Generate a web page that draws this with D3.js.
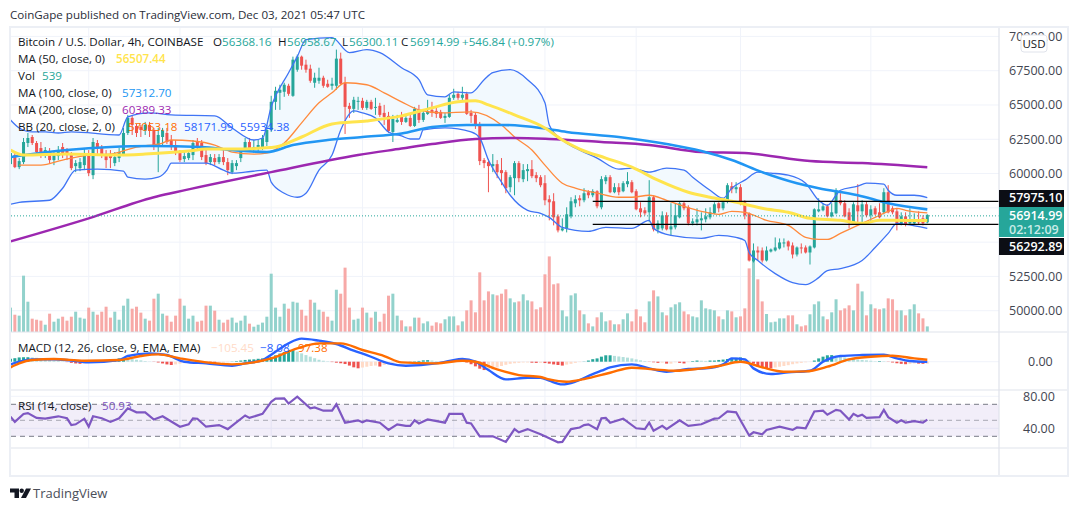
<!DOCTYPE html>
<html>
<head>
<meta charset="utf-8">
<script src="https://cdn.jsdelivr.net/npm/d3@7"></script>
<style>
  html, body { margin: 0; padding: 0; background: #fff; }
  svg { display: block; }
  text { font-family: "Open Sans", "Liberation Sans", sans-serif; font-size: 11.6px; fill: #131722; }
  .axis text { fill: #434651; font-size: 12.5px; }
</style>
</head>
<body>
<svg id="chart" width="1079" height="511"></svg>
<script>
// candles, one row per 10 bars
const opens = [
  60616,61275,60397,60763,62154,62593,62154,61788,61349,61495,
  60909,61202,61861,61641,61275,60470,60323,60543,61275,59811,
  62154,61861,61275,61275,60689,61056,61349,62886,63985,63399,
  63326,63033,63472,63106,62008,62593,62886,62374,62008,61422,
  60982,61056,61275,62227,62154,61275,60763,61056,60763,61129,
  60763,60030,60470,61056,61641,62227,61715,61788,61861,62227,
  63106,65157,65816,65889,66328,65596,67500,68452,67866,67573,
  66548,66694,66914,66475,66328,66328,68306,66548,64864,64644,
  65157,65230,64717,65157,64717,64864,64351,64131,62960,63692,
  64058,63692,63985,63399,64571,63838,64278,64571,64498,64424,
  63985,64058,65450,65742,65450,65742,64351,64205,63545,60909,
  60763,60470,60616,60177,60030,58932,59591,60689,59518,60104,
  60250,59811,59664,59225,58053,57907,56808,55783,55930,56808,
  57760,58126,57980,58566,58346,58639,57467,59371,59664,58566,
  58932,58639,59152,59298,58639,57394,57248,57101,58200,55856,
  55930,56881,55856,56003,56735,57760,57467,56296,56369,56515,
  56589,56735,57028,57760,57394,57907,59005,58785,58932,57833,
  57028,53513,54319,54319,53586,54246,54319,54465,54831,54978,
  54685,54026,54538,54538,54172,54538,57174,57248,57541,56808,
  57028,57980,57760,57101,56369,57614,57174,57687,56881,57394,
  57101,57101,58566,57394,57174,56222,56808,56296,56296,56515,
  56662,56368];
const highs = [
  61788,61495,61056,62520,62886,62740,62301,62227,61861,61788,
  61495,61934,62154,61788,61495,60909,61056,61788,61641,62520,
  62374,62008,61641,61641,61495,61788,63253,64205,64131,63545,
  63472,63692,63692,63253,63253,63253,63253,62740,62374,61641,
  61495,61641,62374,62520,62374,61641,61349,61349,61349,61641,
  61056,60909,60909,61788,62520,62520,62374,62374,62740,63472,
  65596,66255,66402,66548,66475,68452,68600,68530,68232,67866,
  67280,67646,67060,66768,66914,68965,68745,66987,65083,65523,
  65523,65450,65303,65303,65450,65083,64937,64424,64205,64205,
  64424,64205,64205,64790,64937,64571,65303,65157,64717,64571,
  64351,65669,66109,65889,66255,65889,64571,64351,63692,61056,
  60982,61349,60909,61056,60177,59811,60836,60836,60616,60616,
  60909,60030,59811,59811,58346,58493,56955,56662,57467,58200,
  58346,58346,58859,58712,58785,58712,59737,59811,59811,59225,
  59225,59371,60030,59445,58785,57833,57467,59445,58346,56515,
  57174,57101,57760,57760,57907,57907,57614,56662,57394,57101,
  57394,57467,57833,57833,58126,59225,59298,59298,59152,57980,
  57101,54831,54612,54538,54612,54465,55270,55197,55197,55051,
  54905,54612,54831,54685,54685,57394,58126,57760,57687,57760,
  58859,58493,57980,57394,57833,59152,57980,57907,57614,57541,
  57760,58859,59078,57541,57394,57101,57101,57394,57028,57174,
  56881,56958];
const lows = [
  60177,60323,60250,60616,61861,62008,61275,61056,61056,60689,
  60543,60909,61056,60909,60177,60030,60104,60177,59737,59518,
  61275,61056,60323,60323,60470,60763,61202,62740,62740,62593,
  62593,62740,62593,61641,60030,62008,62081,61641,61275,60763,
  60763,60909,60909,61641,60909,60543,60543,60543,60616,60543,
  59811,59884,60177,60763,61495,61641,61422,61495,61641,61934,
  62960,64571,64571,65523,65596,65523,67350,67500,67280,66548,
  66182,66475,66182,66182,66035,66035,66402,62813,63985,64351,
  64571,64571,64571,64571,64205,64058,63472,62886,62227,63619,
  63472,63619,63326,63326,63619,63692,64205,64058,63985,63912,
  63619,63985,65303,65303,65303,64205,63619,63179,60543,60323,
  58566,60030,59591,59078,58493,58566,58346,59298,59298,59371,
  59591,59298,58932,57614,56515,56149,55637,55710,55637,56662,
  57467,57541,57833,58126,58200,57394,57321,59152,58493,58493,
  58346,58566,58932,58493,57248,56735,56881,56369,55710,55563,
  55783,55783,55417,55856,56662,57248,56149,56149,56149,55783,
  56369,56589,56955,57101,57248,57760,58493,58493,57614,56589,
  53513,53440,53586,53440,53513,54172,54246,54392,54538,54319,
  53740,53880,54099,54099,53294,54465,57101,57174,56735,56735,
  56955,57614,56735,55930,56222,56369,56369,56735,56369,56881,
  56662,56955,57028,56955,55783,56149,56076,56222,56222,56222,
  56149,56300];
const closes = [
  61422,60397,60836,62227,62520,62154,61495,61422,61641,60909,
  61275,61641,61422,61275,60323,60689,60763,61275,59957,62227,
  61861,61275,60909,61056,61129,61495,62886,63985,63472,62886,
  63106,63472,63033,62008,62740,63106,62227,61861,61422,60909,
  61202,61422,62154,61861,61129,60689,61129,60763,61129,60763,
  60177,60689,60689,61495,62227,61788,61861,62008,62520,63106,
  65157,65962,66035,66402,65742,68232,68452,67793,67500,66694,
  66914,66914,66328,66255,66475,68306,66475,64790,64644,65303,
  65230,64717,65157,64644,64790,64205,64058,63033,63912,63838,
  63692,63985,63399,64644,63838,64351,64424,64424,64278,63985,
  64131,65450,65669,65450,65669,64278,64131,63399,60836,60689,
  60470,60616,60030,59957,58859,59664,60689,59591,60177,60250,
  59737,59591,59078,57980,57833,56735,55783,55930,56955,57907,
  58053,57980,58493,58346,58639,57541,59518,59664,58566,58932,
  58566,59225,59371,58566,57321,57101,57028,58200,55856,56296,
  56881,55856,56076,56881,57760,57394,56296,56442,56589,56662,
  56808,57101,57687,57394,57833,59078,58785,58932,57833,56881,
  53586,54319,54172,53586,54319,54392,54538,54905,54905,54612,
  54026,54538,54465,54172,54612,57321,57321,57541,56808,57101,
  58712,57760,56808,56369,57687,57174,57687,56881,57321,56955,
  56735,58566,57101,57101,56296,56808,56222,56515,56515,56369,
  56296,56915];
const volumes = [
  2340,1660,1570,5410,2910,1280,1180,1090,700,1760,
  990,1280,1470,1090,1470,1950,1380,1280,2340,1950,
  1660,1950,2430,1380,1950,1180,2530,3200,2240,2430,
  1860,1280,1090,3200,3680,1760,1570,990,1570,3200,
  2530,1280,1570,990,1090,2530,2530,2050,1180,900,
  1180,1380,900,1090,1570,800,510,700,900,1470,
  5600,2340,1470,2720,2240,2910,2820,2140,1570,3100,
  2820,2140,1950,1470,1090,4060,3680,6180,2340,1180,
  1280,2340,1860,1380,1950,990,1760,3490,3680,1570,
  1120,540,540,1380,1380,830,1020,610,930,830,
  1220,1500,1500,640,1020,2080,3040,1890,5730,3040,
  3900,3620,3520,3680,4100,3230,2850,2940,3620,3040,
  2940,2180,2370,5540,7260,4580,4670,2080,1500,3520,
  3710,2080,1700,830,540,1410,1890,1020,1120,740,
  740,1220,1790,1020,2180,1500,930,2940,4000,3420,
  1890,1600,2370,2660,2850,1980,1700,1500,1410,3040,
  2270,2180,2080,1500,1220,2080,1980,1410,1500,2270,
  6110,6780,5060,2940,1730,930,990,1310,1310,1600,
  1600,740,540,640,1700,2660,2940,1500,1220,1890,
  3140,2080,2270,2560,2080,4640,3900,1600,2660,2270,
  2180,2270,3230,3140,2080,2080,1600,2180,2660,1790,
  1310,539];

// overlay lines as [bar, value] points
const bbUpper = [[0,63838],[2,63253],[5,62960],[8,62960],[11,62886],[14,62960],[25,62740],[27,64058],[32,64351],[37,64205],[47,64131],[51,63253],[56,62374],[58,62520],[60,64790],[64,67280],[66,68452],[68,69697],[74,69843],[78,68745],[82,68965],[85,68745],[90,67646],[94,66768],[96,65669],[100,65523],[102,65889],[106,65816],[109,66768],[111,67280],[115,67500],[119,66768],[123,65083],[124,63472],[127,62374],[130,61788],[135,61056],[140,60250],[143,60323],[147,60030],[151,60323],[155,60177],[157,59664],[161,58712],[164,58126],[166,58859],[169,59445],[172,60030],[175,59957],[179,59811],[183,59225],[186,57980],[188,57614],[190,58346],[191,58712],[195,59005],[197,59225],[201,59152],[202,58712],[204,58346],[208,58346],[211,58172]];
const bbLower = [[0,57687],[2,57833],[9,57980],[12,58859],[15,60177],[20,60250],[26,60104],[27,59664],[31,59518],[34,59664],[36,60177],[37,60689],[45,60689],[49,60177],[51,59957],[54,60030],[59,60177],[60,59298],[63,58493],[66,58200],[68,58493],[71,60177],[74,61275],[76,63106],[79,64498],[81,64351],[84,63985],[87,62960],[90,62667],[92,62447],[94,62447],[95,63106],[100,63253],[106,62960],[108,62520],[110,60909],[113,59298],[115,58346],[119,57248],[122,57028],[124,56735],[127,56003],[133,55710],[137,56003],[143,55930],[147,56515],[148,55930],[152,55417],[159,55197],[163,55417],[167,55270],[169,55051],[170,54172],[172,53586],[176,52634],[180,51975],[183,51828],[186,52340],[188,52853],[191,52999],[196,53586],[199,54538],[202,55563],[204,56296],[206,56222],[211,55934]];
const bbBasis = [[2,60543],[7,60543],[12,60909],[18,61275],[23,61349],[29,61861],[35,62154],[37,62374],[42,62301],[47,62008],[51,61495],[56,61349],[59,61422],[63,62154],[67,63619],[71,65083],[74,65816],[77,66548],[82,66402],[86,65816],[90,65157],[94,64571],[99,64351],[106,64424],[113,63472],[116,62593],[120,61641],[123,60543],[127,59225],[130,58859],[135,58493],[140,58200],[143,58200],[147,58346],[151,57980],[155,57541],[159,57174],[163,56955],[166,57174],[169,57101],[174,56515],[179,56149],[183,55270],[186,55124],[188,55124],[191,55563],[196,56296],[199,56735],[202,57174],[204,57394],[206,57248],[211,57053]];
const ma50 = [[0,61641],[3,61275],[13,61349],[24,61275],[31,61349],[41,61568],[45,61715],[51,61715],[58,61788],[61,61861],[67,62593],[74,63545],[82,63765],[90,64131],[97,64717],[103,65157],[107,65230],[110,64937],[116,64205],[123,63253],[127,62374],[131,61715],[137,61056],[143,60397],[149,59445],[156,58566],[161,58200],[166,57907],[170,57614],[173,57394],[179,57101],[184,56662],[191,56515],[196,56296],[200,56515],[203,56515],[211,56507]];
const ma100 = [[0,61129],[13,61641],[23,61861],[32,61934],[44,61861],[51,61641],[59,61495],[65,62008],[73,62374],[81,62593],[90,62850],[97,63326],[105,63472],[113,63472],[122,63253],[128,62960],[140,62593],[151,62081],[159,61568],[166,60909],[173,60030],[181,59225],[186,58859],[195,58346],[202,57760],[211,57313]];
const ma200 = [[0,54978],[18,56662],[33,58200],[38,58566],[60,60030],[80,61275],[90,61750],[97,62081],[107,62447],[116,62520],[124,62447],[136,62227],[147,62008],[159,61495],[169,61422],[184,60836],[196,60689],[211,60389]];

const macdHist = [
  150,180,220,230,230,220,200,170,140,100,
  70,40,20,-20,-60,-90,-110,-90,-60,-30,
  -10,10,30,60,120,170,190,170,140,100,
  70,30,10,-10,-40,-90,-140,-170,-140,-100,
  -70,-50,-30,-10,-20,-40,-60,-70,-60,-50,
  -30,10,30,60,90,110,120,150,170,190,
  240,330,420,500,560,600,520,430,340,260,
  180,100,50,20,-20,-50,-80,-120,-200,-290,
  -340,-300,-260,-220,-200,-250,-170,-100,-50,-20,
  -10,0,10,20,40,70,80,60,30,0,
  10,30,60,40,20,-40,-130,-240,-360,-430,
  -420,-400,-300,-220,-160,-110,-80,-60,-40,-40,
  -50,-60,-60,-70,-100,-140,-170,-200,-150,-110,
  -60,-20,10,60,130,170,260,330,330,300,
  270,240,210,170,120,70,30,-10,-30,-60,
  -50,-100,-100,-30,-60,-90,-20,30,60,50,
  40,60,60,90,110,140,170,200,220,170,
  60,-100,-250,-300,-330,-340,-300,-260,-220,-180,
  -130,-90,-60,-30,-10,60,170,260,330,340,
  310,260,220,180,140,110,90,70,50,20,
  30,20,-10,-40,-80,-110,-130,-120,-90,-100,
  -110,-105];
const macdLine = [[0,-138],[2,0],[5,120],[10,120],[13,86],[18,-34],[25,86],[27,292],[32,430],[36,344],[40,0],[45,-86],[51,-206],[54,-86],[58,86],[61,516],[64,946],[67,1187],[71,1084],[75,912],[79,568],[82,344],[87,-86],[91,-206],[98,-86],[101,34],[104,138],[107,0],[110,-430],[114,-912],[119,-826],[122,-826],[124,-980],[127,-1170],[130,-1030],[134,-636],[136,-464],[138,-292],[143,-138],[147,-344],[151,-516],[156,-378],[160,-344],[164,-138],[166,172],[169,120],[171,-344],[175,-636],[179,-550],[184,-464],[187,0],[191,292],[196,344],[201,360],[204,172],[207,34],[211,-8]];
const macdSignal = [[0,-292],[2,-86],[5,86],[10,138],[17,52],[25,86],[30,292],[34,378],[39,172],[45,-34],[51,-138],[56,-34],[60,172],[66,688],[71,946],[76,946],[81,602],[86,292],[90,-34],[98,-86],[104,52],[107,0],[112,-396],[117,-688],[122,-790],[124,-912],[128,-1030],[132,-894],[138,-568],[143,-310],[148,-396],[153,-464],[159,-344],[163,-224],[168,0],[173,-292],[178,-516],[183,-500],[188,-258],[193,120],[198,258],[203,310],[208,172],[211,97]];
const rsiLine = [[0,54.6],[1,48],[3,58],[4,59],[6,53],[8,52],[11,55],[13,52.5],[14,44],[15,45],[17,52],[18,42],[19,55],[21,52.5],[23,48],[25,52.5],[27,65],[29,60],[31,60],[33,51],[35,55],[39,42],[41,45],[42,52.5],[43,52],[45,42],[48,44],[50,39],[54,56],[55,53],[58,58],[60,73],[61,77],[63,77.5],[64,71],[66,79.6],[69,65],[70,66],[72,62],[74,62],[75,70],[77,47],[80,50],[81,47.5],[82,50],[85,47],[87,38],[89,45],[91,43],[92,43],[93,50],[94,46],[96,51],[100,47],[101,58],[104,58],[105,47],[106,46],[108,30],[111,30],[114,23],[116,39],[117,35],[119,39],[122,32.5],[124,27.5],[126,22.5],[127,23],[129,39],[131,41],[132,44],[133,45],[135,39],[136,52.5],[137,53],[138,47],[141,52],[144,40],[146,39],[147,47],[148,37],[150,43],[151,39],[154,50],[156,43],[159,45],[162,52],[163,52.5],[165,61],[167,60],[168,50],[170,31],[171,35],[173,32.5],[174,38],[177,42],[180,38],[181,41],[183,40],[185,61],[187,62],[188,57],[190,63],[191,62],[193,51],[194,58],[195,55],[196,57],[197,53],[200,54],[201,63],[202,54],[204,47],[205,50],[206,47],[208,49],[210,47],[211,50.93]];

const priceTicks = [70000,67500,65000,62500,60000,57500,55000,52500,50000];
const priceLabelTicks = [70000,67500,65000,62500,60000,52500,50000]; // 57500 and 55000 sit behind the tags
const levelPrices = [57975.10, 56292.89];
const lastPrice = 56914.99;
const timeTickBars = [18,39,60,81,102,123,144,168,198,228];
const timeTickLabels = ["Nov","12:00","8","12:00","15","12:00","22","26","Dec","6"];
const boldTimeLabels = ["Nov","Dec"];
const macdTicks = [0];
const rsiTicks = [80,40];
const rsiLevels = [70,50,30];
const levelStartBar = 134;

const UP = "#26a69a", DOWN = "#ef5350";
const plotL = 11, plotR = 999, frameT = 27, frameB = 476, paneBottom = 332, macdBottom = 390, rsiBottom = 448;

const svg = d3.select("#chart");

const x = d3.scaleLinear().domain([0, opens.length - 1]).range([10.5, 927.3]);
const yPrice = d3.scaleLinear().domain([67500, 50000]).range([70.7, 310.7]);
const yVol = d3.scaleLinear().domain([0, 8000]).range([paneBottom, paneBottom - 83.3]);
const yMacd = d3.scaleLinear().domain([1200, -1200]).range([338.4, 385]);
const yRsi = d3.scaleLinear().domain([70, 30]).range([404.3, 436.3]);

svg.append("clipPath").attr("id", "plot").append("rect")
  .attr("x", plotL).attr("y", frameT).attr("width", plotR - plotL).attr("height", frameB - frameT);

// grid
const grid = svg.append("g").attr("stroke", "#f0f3fa").attr("stroke-width", 1);
grid.selectAll(".gx").data(timeTickBars.slice(0, -1)).enter().append("line")
  .attr("x1", d => x(d)).attr("x2", d => x(d)).attr("y1", frameT).attr("y2", rsiBottom);
grid.selectAll(".gp").data(priceTicks).enter().append("line")
  .attr("x1", plotL).attr("x2", plotR).attr("y1", d => yPrice(d)).attr("y2", d => yPrice(d));
grid.selectAll(".gm").data(macdTicks).enter().append("line")
  .attr("x1", plotL).attr("x2", plotR).attr("y1", d => yMacd(d)).attr("y2", d => yMacd(d));
grid.selectAll(".gr").data(rsiTicks).enter().append("line")
  .attr("x1", plotL).attr("x2", plotR).attr("y1", d => yRsi(d)).attr("y2", d => yRsi(d));

const plot = svg.append("g").attr("clip-path", "url(#plot)");

// volume sits under the price marks
plot.selectAll(".vol").data(volumes).enter().append("rect")
  .attr("x", (d, i) => x(i) - 1.5).attr("width", 3)
  .attr("y", d => yVol(d)).attr("height", d => paneBottom - yVol(d))
  .attr("fill", (d, i) => closes[i] >= opens[i] ? "#92d2cc" : "#f7a9a7");

// values were read a touch above the true scale, pull the price marks up a pixel
const priceG = plot.append("g").attr("transform", "translate(0,-1)");
const priceLine = d3.line().x(d => x(d[0])).y(d => yPrice(d[1])).curve(d3.curveMonotoneX);

priceG.append("path")
  .attr("d", priceLine(bbUpper) + "L" + priceLine(bbLower.slice().reverse()).slice(1) + "Z")
  .attr("fill", "#f2f9fe");

const candles = priceG.selectAll(".candle").data(opens).enter().append("g");
candles.append("line")
  .attr("x1", (d, i) => x(i)).attr("x2", (d, i) => x(i))
  .attr("y1", (d, i) => yPrice(highs[i])).attr("y2", (d, i) => yPrice(lows[i]))
  .attr("stroke", (d, i) => closes[i] >= d ? UP : DOWN).attr("stroke-width", 1);
candles.append("rect")
  .attr("x", (d, i) => x(i) - 1.5).attr("width", 3)
  .attr("y", (d, i) => yPrice(Math.max(d, closes[i])))
  .attr("height", (d, i) => Math.max(1, Math.abs(yPrice(d) - yPrice(closes[i]))))
  .attr("fill", (d, i) => closes[i] >= d ? UP : DOWN);

function drawPriceLine(data, color, width) {
  priceG.append("path").attr("d", priceLine(data))
    .attr("fill", "none").attr("stroke", color).attr("stroke-width", width);
}
drawPriceLine(bbUpper, "#3f74f5", 1.3);
drawPriceLine(bbLower, "#3f74f5", 1.3);
drawPriceLine(bbBasis, "#ff8a3c", 1.3);
drawPriceLine(ma200, "#9c27b0", 2.5);
drawPriceLine(ma100, "#2196f3", 2.6);
drawPriceLine(ma50, "#ffe44d", 3);

// drawn levels and last price line
plot.selectAll(".level").data(levelPrices).enter().append("line")
  .attr("x1", x(levelStartBar)).attr("x2", plotR)
  .attr("y1", d => yPrice(d)).attr("y2", d => yPrice(d))
  .attr("stroke", "#000").attr("stroke-width", 1.2);
plot.append("line").attr("x1", plotL).attr("x2", plotR)
  .attr("y1", yPrice(lastPrice)).attr("y2", yPrice(lastPrice))
  .attr("stroke", UP).attr("stroke-width", 1).attr("stroke-dasharray", "1 2");

// MACD pane
plot.selectAll(".hist").data(macdHist).enter().append("rect")
  .attr("x", (d, i) => x(i) - 1.5).attr("width", 3)
  .attr("y", d => Math.min(yMacd(d), yMacd(0)))
  .attr("height", d => Math.abs(yMacd(d) - yMacd(0)))
  .attr("fill", (d, i) => {
    const prev = i ? macdHist[i - 1] : d;
    if (d >= 0) return d >= prev ? UP : "#b2dfdb";
    return d < prev ? DOWN : "#ffdbc8";
  });
const macdPath = d3.line().x(d => x(d[0])).y(d => yMacd(d[1])).curve(d3.curveMonotoneX);
plot.append("path").attr("d", macdPath(macdLine)).attr("fill", "none").attr("stroke", "#2962ff").attr("stroke-width", 2.4);
plot.append("path").attr("d", macdPath(macdSignal)).attr("fill", "none").attr("stroke", "#ff6d00").attr("stroke-width", 2.4);

// RSI pane
plot.append("rect").attr("x", plotL).attr("width", plotR - plotL)
  .attr("y", yRsi(70)).attr("height", yRsi(30) - yRsi(70)).attr("fill", "#7e57c2").attr("opacity", 0.1);
plot.selectAll(".rsiLevel").data(rsiLevels).enter().append("line")
  .attr("x1", plotL).attr("x2", plotR).attr("y1", d => yRsi(d)).attr("y2", d => yRsi(d))
  .attr("stroke", "#787b86").attr("stroke-dasharray", "5 4")
  .attr("opacity", d => d === 50 ? 0.6 : 1);
const rsiPath = d3.line().x(d => x(d[0])).y(d => yRsi(d[1]));
plot.append("path").attr("d", rsiPath(rsiLine)).attr("fill", "none").attr("stroke", "#7e57c2").attr("stroke-width", 2.2);

// pane separators and frame
const sep = svg.append("g").attr("stroke", "#e0e3eb").attr("stroke-width", 1.2);
[paneBottom, macdBottom, rsiBottom].forEach(yy => {
  sep.append("line").attr("x1", plotL).attr("x2", 1068).attr("y1", yy).attr("y2", yy);
});
sep.append("line").attr("x1", plotR).attr("x2", plotR).attr("y1", frameT).attr("y2", frameB);
svg.append("rect").attr("x", 10).attr("y", frameT).attr("width", 1058).attr("height", frameB - frameT)
  .attr("fill", "none").attr("stroke", "#eceff5").attr("stroke-width", 2);

// axes
function priceAxisG(scale, ticks) {
  const ax = d3.axisRight(scale).tickValues(ticks).tickSize(0).tickPadding(0).tickFormat(d3.format(".2f"));
  const g = svg.append("g").attr("class", "axis").attr("transform", "translate(1009,0)").call(ax);
  g.select(".domain").remove();
  return g;
}
priceAxisG(yPrice, priceLabelTicks);
priceAxisG(yMacd, macdTicks).selectAll("text").attr("dx", 19);
priceAxisG(yRsi, rsiTicks).selectAll("text").attr("dx", 14);

const timeAxis = d3.axisBottom(x).tickValues(timeTickBars).tickSize(0).tickPadding(0)
  .tickFormat((d, i) => timeTickLabels[i]);
const timeG = svg.append("g").attr("class", "axis").attr("clip-path", "url(#plot)")
  .attr("transform", "translate(0,455)").call(timeAxis);
timeG.select(".domain").remove();
timeG.selectAll("text").style("fill", d => boldTimeLabels.includes(timeTickLabels[timeTickBars.indexOf(d)]) ? "#131722" : "#434651");

// price tags
function tag(y0, h, color) {
  svg.append("rect").attr("x", 999).attr("y", y0).attr("width", 65).attr("height", h).attr("fill", color);
}
function tagText(str, yy, color) {
  svg.append("text").attr("x", 1009).attr("y", yy).attr("dy", "0.35em")
    .style("font-size", "12.5px").style("font-weight", 600).style("fill", color).text(str);
}
tag(190, 17, "#0c0e15");
tag(207, 30, UP);
tag(238, 17, "#0c0e15");
tagText(d3.format(".2f")(levelPrices[0]), yPrice(levelPrices[0]) - 3.5, "#fff");
tagText(d3.format(".2f")(lastPrice), yPrice(lastPrice), "#fff");
tagText("02:12:09", 230, "#c9ece8");
tagText(d3.format(".2f")(levelPrices[1]), 246.5, "#fff");

svg.append("rect").attr("x", 1021).attr("y", 35).attr("width", 26).attr("height", 17).attr("rx", 3)
  .attr("fill", "#fff").attr("stroke", "#e0e3eb");
svg.append("text").attr("x", 1034).attr("y", 43.5).attr("dy", "0.35em").attr("text-anchor", "middle")
  .style("font-size", "11.5px").text("USD");

// header, legends, footer
function label(str, xx, yy, color, weight) {
  svg.append("text").attr("x", xx).attr("y", yy).attr("dy", "0.35em")
    .style("fill", color || "#131722").style("font-weight", weight || 400).text(str);
}
label("CoinGape published on TradingView.com, Dec 03, 2021 05:47 UTC", 10, 14.5, "#2a2e39");
label("Bitcoin / U.S. Dollar, 4h, COINBASE", 18, 41.5);
[["O",213,"56368.16",222],["H",278,"56958.67",287],["L",342,"56300.11",349],["C",401,"56914.99",410]].forEach(r => {
  label(r[0], r[1], 41.5);
  label(r[2], r[3], 41.5, UP);
});
label("+546.84 (+0.97%)", 462, 41.5, UP);
label("MA (50, close, 0)", 18, 59);
label("56507.44", 116, 59, "#ffe44d", 600);
label("Vol", 18, 76);
label("539", 42, 76, UP);
label("MA (100, close, 0)", 18, 93);
label("57312.70", 122, 93, "#2196f3");
label("MA (200, close, 0)", 18, 110);
label("60389.33", 122, 110, "#9c27b0");
label("BB (20, close, 2, 0)", 18, 127);
label("57053.18", 128, 127, "#ff6d00");
label("58171.99", 184, 127, "#2962ff");
label("55934.38", 240, 127, "#2962ff");
label("MACD (12, 26, close, 9, EMA, EMA)", 18, 347.5);
label("\u2212105.45", 211, 347.5, "#ffdbc8");
label("\u22128.08", 260, 347.5, "#2962ff");
label("97.38", 298, 347.5, "#ff6d00");
label("RSI (14, close)", 18, 406);
label("50.93", 102, 406, "#7e57c2");

const logo = svg.append("g").attr("fill", "#131722");
logo.append("path").attr("d", "M10 488.5h9v9.5h-4.5v-5.5H10z");
logo.append("circle").attr("cx", 21.7).attr("cy", 490.7).attr("r", 2.2);
logo.append("path").attr("d", "M26 488.5h5l-5 9.5h-5z");
svg.append("text").attr("x", 33).attr("y", 493).attr("dy", "0.35em")
  .style("font-size", "13px").style("fill", "#4a4e59").text("TradingView");
</script>
</body>
</html>
